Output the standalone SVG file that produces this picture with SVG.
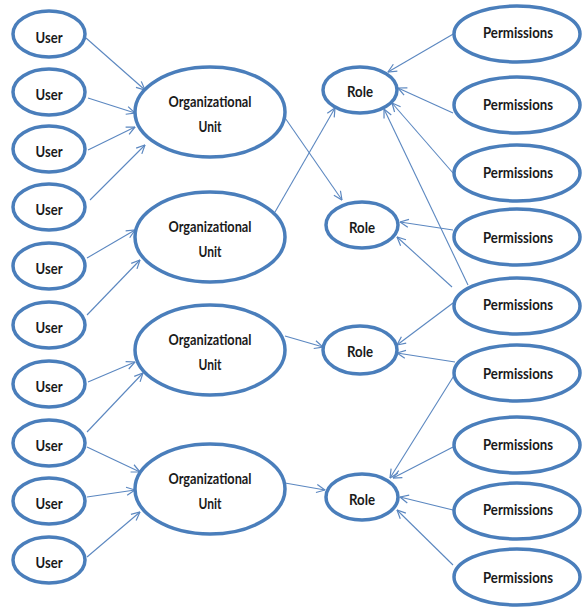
<svg xmlns="http://www.w3.org/2000/svg" width="584" height="607" viewBox="0 0 584 607">
<style>
.n ellipse{fill:#fff;stroke:#4a7ebb;stroke-width:3.5}
.n text{font-family:Lato,"Open Sans","Liberation Sans",sans-serif;font-size:15px;font-weight:bold;fill:#1a1a1a;text-anchor:middle}
.e line{stroke:#5b87c0;stroke-width:1.1;marker-end:url(#arr)}
</style>
<defs>
<marker id="arr" viewBox="0 0 10 10" refX="9.5" refY="5" markerWidth="10" markerHeight="10" markerUnits="userSpaceOnUse" orient="auto">
<path d="M1,1 L9.5,5 L1,9" fill="none" stroke="#5b87c0" stroke-width="1.2"/>
</marker>
</defs>
<rect width="584" height="607" fill="#fff"/>
<g class="e" id="connectors">
<line x1="86" y1="38" x2="145" y2="90"/>
<line x1="88" y1="98" x2="135" y2="113"/>
<line x1="88" y1="150" x2="135" y2="127"/>
<line x1="90" y1="200" x2="145" y2="145"/>
<line x1="87" y1="258" x2="135" y2="230"/>
<line x1="87" y1="315" x2="140" y2="260"/>
<line x1="88" y1="382" x2="135" y2="362"/>
<line x1="87" y1="432" x2="143" y2="373"/>
<line x1="87" y1="447" x2="140" y2="472"/>
<line x1="87" y1="497" x2="135" y2="490"/>
<line x1="87" y1="557" x2="140" y2="512"/>
<line x1="283" y1="115" x2="342" y2="200"/>
<line x1="275" y1="212" x2="335" y2="108"/>
<line x1="285" y1="336" x2="323" y2="347"/>
<line x1="285" y1="483" x2="325" y2="490"/>
<line x1="455" y1="33" x2="388" y2="72"/>
<line x1="453" y1="113" x2="398" y2="88"/>
<line x1="453" y1="173" x2="392" y2="103"/>
<line x1="468" y1="285" x2="384" y2="109"/>
<line x1="453" y1="230" x2="400" y2="222"/>
<line x1="452" y1="287" x2="397" y2="237"/>
<line x1="453" y1="303" x2="397" y2="345"/>
<line x1="455" y1="362" x2="397" y2="353"/>
<line x1="455" y1="374" x2="390" y2="478"/>
<line x1="453" y1="447" x2="393" y2="478"/>
<line x1="453" y1="510" x2="400" y2="497"/>
<line x1="453" y1="565" x2="397" y2="510"/>
</g>
<g class="n" id="user1"><ellipse cx="49" cy="34" rx="36" ry="23"/><text x="49" y="43" textLength="27" lengthAdjust="spacingAndGlyphs">User</text></g>
<g class="n" id="user2"><ellipse cx="49" cy="92" rx="36" ry="23"/><text x="49" y="100" textLength="27" lengthAdjust="spacingAndGlyphs">User</text></g>
<g class="n" id="user3"><ellipse cx="49" cy="149" rx="36" ry="23"/><text x="49" y="157" textLength="27" lengthAdjust="spacingAndGlyphs">User</text></g>
<g class="n" id="user4"><ellipse cx="49" cy="207" rx="36" ry="23"/><text x="49" y="215" textLength="27" lengthAdjust="spacingAndGlyphs">User</text></g>
<g class="n" id="user5"><ellipse cx="49" cy="266" rx="36" ry="23"/><text x="49" y="274" textLength="27" lengthAdjust="spacingAndGlyphs">User</text></g>
<g class="n" id="user6"><ellipse cx="49" cy="325" rx="36" ry="23"/><text x="49" y="333" textLength="27" lengthAdjust="spacingAndGlyphs">User</text></g>
<g class="n" id="user7"><ellipse cx="49" cy="384" rx="36" ry="23"/><text x="49" y="392" textLength="27" lengthAdjust="spacingAndGlyphs">User</text></g>
<g class="n" id="user8"><ellipse cx="49" cy="443" rx="36" ry="23"/><text x="49" y="451" textLength="27" lengthAdjust="spacingAndGlyphs">User</text></g>
<g class="n" id="user9"><ellipse cx="49" cy="501" rx="36" ry="23"/><text x="49" y="509" textLength="27" lengthAdjust="spacingAndGlyphs">User</text></g>
<g class="n" id="user10"><ellipse cx="49" cy="560" rx="36" ry="23"/><text x="49" y="568" textLength="27" lengthAdjust="spacingAndGlyphs">User</text></g>
<g class="n" id="ou1"><ellipse cx="210" cy="112" rx="75" ry="45"/><text x="210" y="107" textLength="83" lengthAdjust="spacingAndGlyphs">Organizational</text><text x="210" y="132" textLength="23" lengthAdjust="spacingAndGlyphs">Unit</text></g>
<g class="n" id="ou2"><ellipse cx="210" cy="237" rx="75" ry="45"/><text x="210" y="232" textLength="83" lengthAdjust="spacingAndGlyphs">Organizational</text><text x="210" y="257" textLength="23" lengthAdjust="spacingAndGlyphs">Unit</text></g>
<g class="n" id="ou3"><ellipse cx="210" cy="350" rx="75" ry="45"/><text x="210" y="345" textLength="83" lengthAdjust="spacingAndGlyphs">Organizational</text><text x="210" y="370" textLength="23" lengthAdjust="spacingAndGlyphs">Unit</text></g>
<g class="n" id="ou4"><ellipse cx="210" cy="489" rx="75" ry="45"/><text x="210" y="484" textLength="83" lengthAdjust="spacingAndGlyphs">Organizational</text><text x="210" y="509" textLength="23" lengthAdjust="spacingAndGlyphs">Unit</text></g>
<g class="n" id="role1"><ellipse cx="360" cy="90" rx="37" ry="23"/><text x="360" y="97" textLength="26" lengthAdjust="spacingAndGlyphs">Role</text></g>
<g class="n" id="role2"><ellipse cx="362" cy="225" rx="36" ry="23"/><text x="362" y="233" textLength="26" lengthAdjust="spacingAndGlyphs">Role</text></g>
<g class="n" id="role3"><ellipse cx="360" cy="350" rx="37" ry="24"/><text x="360" y="357" textLength="26" lengthAdjust="spacingAndGlyphs">Role</text></g>
<g class="n" id="role4"><ellipse cx="362" cy="497" rx="36" ry="23"/><text x="362" y="505" textLength="26" lengthAdjust="spacingAndGlyphs">Role</text></g>
<g class="n" id="perm1"><ellipse cx="517" cy="34" rx="63" ry="28"/><text x="518" y="38" textLength="70" lengthAdjust="spacingAndGlyphs">Permissions</text></g>
<g class="n" id="perm2"><ellipse cx="517" cy="105" rx="63" ry="28"/><text x="518" y="110" textLength="70" lengthAdjust="spacingAndGlyphs">Permissions</text></g>
<g class="n" id="perm3"><ellipse cx="517" cy="173" rx="63" ry="28"/><text x="518" y="178" textLength="70" lengthAdjust="spacingAndGlyphs">Permissions</text></g>
<g class="n" id="perm4"><ellipse cx="517" cy="237" rx="63" ry="28"/><text x="518" y="243" textLength="70" lengthAdjust="spacingAndGlyphs">Permissions</text></g>
<g class="n" id="perm5"><ellipse cx="517" cy="306" rx="63" ry="28"/><text x="518" y="310" textLength="70" lengthAdjust="spacingAndGlyphs">Permissions</text></g>
<g class="n" id="perm6"><ellipse cx="517" cy="373" rx="63" ry="28"/><text x="518" y="379" textLength="70" lengthAdjust="spacingAndGlyphs">Permissions</text></g>
<g class="n" id="perm7"><ellipse cx="517" cy="445" rx="63" ry="28"/><text x="518" y="450" textLength="70" lengthAdjust="spacingAndGlyphs">Permissions</text></g>
<g class="n" id="perm8"><ellipse cx="517" cy="511" rx="63" ry="28"/><text x="518" y="515" textLength="70" lengthAdjust="spacingAndGlyphs">Permissions</text></g>
<g class="n" id="perm9"><ellipse cx="517" cy="577" rx="63" ry="28"/><text x="518" y="583" textLength="70" lengthAdjust="spacingAndGlyphs">Permissions</text></g>
</svg>
